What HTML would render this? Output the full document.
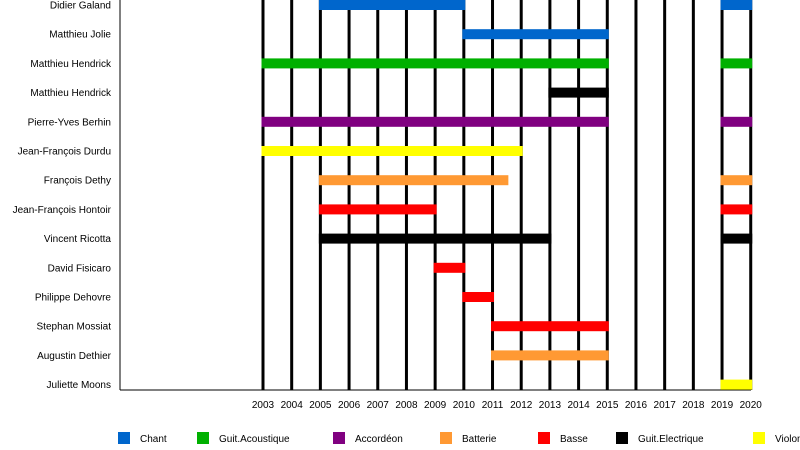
<!DOCTYPE html>
<html><head><meta charset="utf-8"><style>body{margin:0;background:#fff}svg{display:block}text{font-family:"Liberation Sans",sans-serif;font-size:10px;fill:#000}</style></head><body>
<svg width="800" height="450" viewBox="0 0 800 450">
<g id="g"></g>
<line x1="120" y1="0" x2="120" y2="390" stroke="#000" stroke-width="1"/>
<line x1="120" y1="390" x2="751" y2="390" stroke="#000" stroke-width="1"/>
<g id="bars"></g>
</svg>
<script>
var s='http://www.w3.org/2000/svg',g=document.getElementById('g'),b=document.getElementById('bars');
function X(y){return 263+(y-2003)*28.69;}
function el(p,t,a,tx){var e=document.createElementNS(s,t);for(var k in a)e.setAttribute(k,a[k]);if(tx)e.textContent=tx;p.appendChild(e);return e;}
var C={b:'#0066cc',g:'#00b000',p:'#800080',o:'#ff9933',r:'#ff0000',k:'#000000',y:'#ffff00'};
var rows=[["Didier Galand",[[2005,2010,'b'],[2019,2020,'b']]],["Matthieu Jolie",[[2010,2015,'b']]],["Matthieu Hendrick",[[2003,2015,'g'],[2019,2020,'g']]],["Matthieu Hendrick",[[2013,2015,'k']]],["Pierre-Yves Berhin",[[2003,2015,'p'],[2019,2020,'p']]],["Jean-François Durdu",[[2003,2012,'y']]],["François Dethy",[[2005,2011.5,'o'],[2019,2020,'o']]],["Jean-François Hontoir",[[2005,2009,'r'],[2019,2020,'r']]],["Vincent Ricotta",[[2005,2013,'k'],[2019,2020,'k']]],["David Fisicaro",[[2009,2010,'r']]],["Philippe Dehovre",[[2010,2011,'r']]],["Stephan Mossiat",[[2011,2015,'r']]],["Augustin Dethier",[[2011,2015,'o']]],["Juliette Moons",[[2019,2020,'y']]]];
for(var y=2003;y<=2020;y++){el(g,'line',{x1:X(y),y1:0,x2:X(y),y2:390,stroke:'#000','stroke-width':3});el(g,'text',{x:X(y),y:408,'text-anchor':'middle'},y);}
rows.forEach(function(r,i){var cy=5+i*29.2;el(g,'text',{x:111,y:cy+3.5,'text-anchor':'end'},r[0]);
r[1].forEach(function(q){el(b,'rect',{x:X(q[0])-1.5,y:cy-5,width:X(q[1])-X(q[0])+3,height:10,fill:C[q[2]]});});});
[[118,'b','Chant'],[197,'g','Guit.Acoustique'],[333,'p','Accordéon'],[440,'o','Batterie'],[538,'r','Basse'],[616,'k','Guit.Electrique'],[753,'y','Violon']].forEach(function(l){el(b,'rect',{x:l[0],y:432,width:12,height:12,fill:C[l[1]]});el(b,'text',{x:l[0]+22,y:442},l[2]);});
</script>
</body></html>
